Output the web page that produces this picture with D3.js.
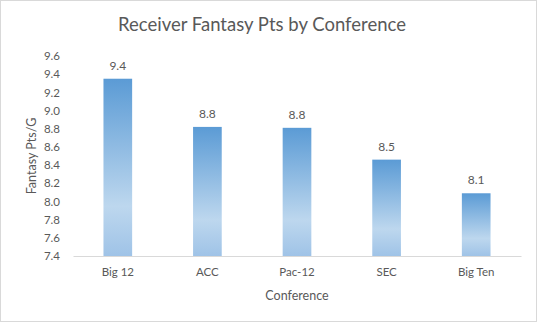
<!DOCTYPE html>
<html>
<head>
<meta charset="utf-8">
<script src="https://cdn.jsdelivr.net/npm/d3@7"></script>
<style>
  body { margin: 0; background: #fff; }
  text { font-family: Lato, "Open Sans", sans-serif; fill: #595959; }
</style>
</head>
<body>
<svg id="chart" width="537" height="322"></svg>
<script>
const conferences = ['Big 12', 'ACC', 'Pac-12', 'SEC', 'Big Ten'];
const fantasyPts = [9.35, 8.82, 8.81, 8.46, 8.09];
const labels = ['9.4', '8.8', '8.8', '8.5', '8.1'];
const yTicks = [7.4, 7.6, 7.8, 8.0, 8.2, 8.4, 8.6, 8.8, 9.0, 9.2, 9.4, 9.6];

const width = 537, height = 322;
const margin = { top: 56, right: 16, bottom: 66, left: 73 };

const svg = d3.select('#chart');

// outer chart border
svg.append('rect')
  .attr('x', 0.5).attr('y', 0.5)
  .attr('width', width - 1).attr('height', height - 1)
  .attr('fill', '#fff').attr('stroke', '#d9d9d9');

const defs = svg.append('defs');
const grad = defs.append('linearGradient')
  .attr('id', 'barGrad')
  .attr('x1', 0).attr('y1', 0).attr('x2', 0).attr('y2', 1);
grad.append('stop').attr('offset', '0%').attr('stop-color', '#5b9bd5');
grad.append('stop').attr('offset', '72%').attr('stop-color', '#bdd7ee');
grad.append('stop').attr('offset', '100%').attr('stop-color', '#9fc3e7');

const x = d3.scaleBand()
  .domain(conferences)
  .range([margin.left, width - margin.right])
  .paddingInner(0.68)
  .paddingOuter(0.34);

const y = d3.scaleLinear()
  .domain([7.4, 9.6])
  .range([height - margin.bottom, margin.top]);

// title
svg.append('text')
  .attr('x', 262).attr('y', 31)
  .attr('text-anchor', 'middle')
  .style('font-size', '18.5px')
  .text('Receiver Fantasy Pts by Conference');

// y axis
const yAxis = svg.append('g')
  .attr('transform', `translate(${margin.left},0)`)
  .call(d3.axisLeft(y).tickValues(yTicks).tickFormat(d3.format('.1f')).tickSize(0).tickPadding(13));
yAxis.select('.domain').remove();
yAxis.selectAll('text').style('font-size', '11.5px').attr('fill', '#595959');

// bars
svg.selectAll('rect.bar')
  .data(conferences)
  .join('rect')
  .attr('class', 'bar')
  .attr('x', d => x(d))
  .attr('width', x.bandwidth())
  .attr('y', (d, i) => y(fantasyPts[i]))
  .attr('height', (d, i) => y(7.4) - y(fantasyPts[i]))
  .attr('fill', 'url(#barGrad)');

// data labels
svg.selectAll('text.val')
  .data(conferences)
  .join('text')
  .attr('class', 'val')
  .attr('x', d => x(d) + x.bandwidth() / 2)
  .attr('y', (d, i) => y(fantasyPts[i]) - 9)
  .attr('text-anchor', 'middle')
  .style('font-size', '12px')
  .attr('fill', '#404040')
  .text((d, i) => labels[i]);

// x axis
const xAxis = svg.append('g')
  .attr('transform', `translate(0,${y(7.4)})`)
  .call(d3.axisBottom(x).tickSize(0).tickPadding(12));
xAxis.select('.domain').attr('stroke', '#d9d9d9');
xAxis.selectAll('text').style('font-size', '11.5px').attr('fill', '#595959');

// axis titles
svg.append('text')
  .attr('x', (margin.left + width - margin.right) / 2)
  .attr('y', 300)
  .attr('text-anchor', 'middle')
  .style('font-size', '12.5px')
  .text('Conference');

svg.append('text')
  .attr('transform', `translate(36,${(margin.top + height - margin.bottom) / 2}) rotate(-90)`)
  .attr('text-anchor', 'middle')
  .style('font-size', '12.5px')
  .text('Fantasy Pts/G');
</script>
</body>
</html>
